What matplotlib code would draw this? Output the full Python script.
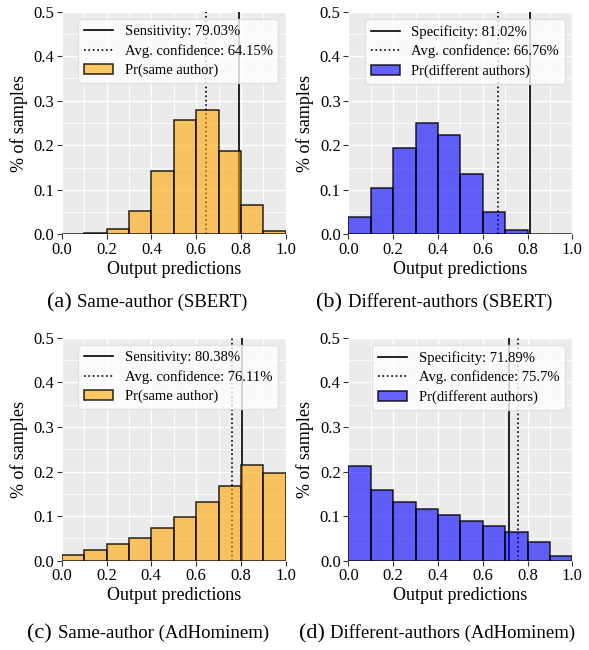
import numpy as np
import matplotlib.pyplot as plt
from matplotlib.lines import Line2D
from matplotlib.patches import Patch
from matplotlib.ticker import MultipleLocator

plt.rcParams['font.family'] = ['Liberation Serif', 'DejaVu Serif']

# bin edges of the histograms (10 bins over [0, 1])
bin_left = [0.0, 0.1, 0.2, 0.3, 0.4, 0.5, 0.6, 0.7, 0.8, 0.9]

# fraction of samples per bin
sbert_same = [0.0005, 0.002, 0.013, 0.052, 0.143, 0.256, 0.279, 0.186, 0.065, 0.007]
sbert_diff = [0.038, 0.105, 0.194, 0.251, 0.222, 0.135, 0.049, 0.009, 0.0015, 0.0005]
adh_same = [0.012, 0.025, 0.037, 0.052, 0.073, 0.099, 0.131, 0.167, 0.214, 0.196]
adh_diff = [0.213, 0.159, 0.131, 0.115, 0.103, 0.090, 0.078, 0.064, 0.041, 0.010]

# vertical reference lines
metric_vals = [0.7903, 0.8102, 0.8038, 0.7189]
avg_conf_vals = [0.6415, 0.6676, 0.7611, 0.757]
metric_names = ["Sensitivity", "Specificity", "Sensitivity", "Specificity"]
metric_labels = ["79.03%", "81.02%", "80.38%", "71.89%"]
conf_labels = ["64.15%", "66.76%", "76.11%", "75.7%"]
hist_labels = ["Pr(same author)", "Pr(different authors)",
               "Pr(same author)", "Pr(different authors)"]
captions = [("(a)", "Same-author (SBERT)"),
            ("(b)", "Different-authors (SBERT)"),
            ("(c)", "Same-author (AdHominem)"),
            ("(d)", "Different-authors (AdHominem)")]

orange = (1.0, 0.647, 0.0, 0.6)
blue = (0.0, 0.0, 1.0, 0.6)
colors = [orange, blue, orange, blue]
all_hists = [sbert_same, sbert_diff, adh_same, adh_diff]

W, H = 589, 650
fig = plt.figure(figsize=(W / 100, H / 100), dpi=100)

# axes boxes in pixels: left, top, right, bottom
boxes = [(62, 11.7, 285.7, 234.3), (348.3, 11.7, 572.3, 234.3),
         (61.7, 337.7, 285.7, 560.7), (348.3, 337.7, 572.3, 560.7)]
cap_pos = [(147, 307), (434, 307), (148, 638), (437, 638)]

renderer = fig.canvas.get_renderer()

for i in range(4):
    l, t, r, b = boxes[i]
    ax = fig.add_axes([l / W, 1 - b / H, (r - l) / W, (b - t) / H])
    ax.set_facecolor('#EBEBEB')
    for s in ax.spines.values():
        s.set_visible(False)
    ax.xaxis.set_major_locator(MultipleLocator(0.2))
    ax.xaxis.set_minor_locator(MultipleLocator(0.1))
    ax.yaxis.set_major_locator(MultipleLocator(0.1))
    ax.yaxis.set_minor_locator(MultipleLocator(0.05))
    ax.grid(True, which='major', color='white', linewidth=1.0)
    ax.grid(True, which='minor', color='white', linewidth=0.6)
    ax.set_axisbelow(True)
    ax.tick_params(which='major', direction='out', length=3.5, width=0.8,
                   color='#333333', labelsize=12, pad=2)
    ax.tick_params(which='minor', length=0)

    ax.axvline(metric_vals[i], color='black', linewidth=1.2, zorder=2)
    ax.axvline(avg_conf_vals[i], color='black', linewidth=1.2,
               linestyle=':', zorder=2)
    ax.bar(bin_left, all_hists[i], width=0.1, align='edge',
           color=colors[i], edgecolor=(0, 0, 0, 0.85), linewidth=1.1, zorder=3)

    ax.set_xlim(0, 1)
    ax.set_ylim(0, 0.5)
    ax.set_xlabel("Output predictions", fontsize=13, labelpad=2)
    ax.set_ylabel("% of samples", fontsize=13, labelpad=4)

    handles = [Line2D([], [], color='black', linewidth=1.2),
               Line2D([], [], color='black', linewidth=1.2, linestyle=':'),
               Patch(facecolor=colors[i], edgecolor=(0, 0, 0, 0.85), linewidth=1.1)]
    labels = [f"{metric_names[i]}: {metric_labels[i]}",
              f"Avg. confidence: {conf_labels[i]}",
              hist_labels[i]]
    leg = ax.legend(handles, labels, loc='upper right', fontsize=10.5,
                    framealpha=0.8, edgecolor='#DDDDDD', fancybox=True,
                    borderpad=0.4, labelspacing=0.4)
    leg.set_zorder(5)

    # caption: bigger tag followed by the description, centred as a whole
    cx, cy = cap_pos[i]
    tag, txt = captions[i]
    t1 = fig.text(0, 1 - cy / H, tag + " ", fontsize=16, ha='left', va='baseline')
    t2 = fig.text(0, 1 - cy / H, txt, fontsize=13.5, ha='left', va='baseline')
    w1 = t1.get_window_extent(renderer).width
    w2 = t2.get_window_extent(renderer).width
    x0 = cx - (w1 + w2) / 2
    t1.set_x(x0 / W)
    t2.set_x((x0 + w1) / W)

fig.savefig("out.png", dpi=100)
